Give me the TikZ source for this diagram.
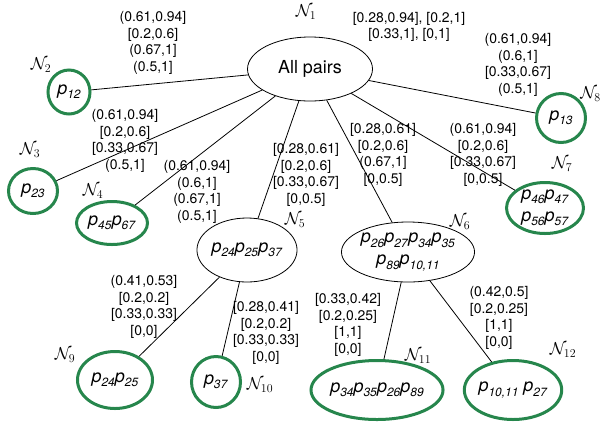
\documentclass[tikz,border=0pt]{standalone}
\usepackage[no-math]{fontspec}
\setmainfont{TeX Gyre Heros}
\usetikzlibrary{shapes.geometric}
\definecolor{leafgreen}{RGB}{38,134,76}
\newcommand\pp[1]{\textit{p}\raisebox{-0.45ex}{\fontsize{12}{12}\selectfont\textit{#1}}}
\begin{document}
\begin{tikzpicture}[x=1bp,y=-1bp,
  inner/.style={ellipse,draw=black,line width=0.8bp,inner sep=0pt,font=\fontsize{18}{22}\selectfont,align=center},
  leaf/.style={ellipse,draw=leafgreen,line width=3bp,inner sep=0pt,font=\fontsize{18}{22}\selectfont,align=center},
  lab/.style={font=\fontsize{14}{16.5}\selectfont,align=center,inner sep=0pt},
  nlab/.style={font=\fontsize{18}{18}\selectfont,inner sep=0pt},
  edge/.style={line width=0.8bp}]
\useasboundingbox (0,0) rectangle (602,429);
% nodes
\node[inner,minimum width=125bp,minimum height=64bp] (n1) at (310,69) {All pairs};
\node[leaf,minimum width=42bp,minimum height=44bp] (n2) at (69,92) {\pp{12}};
\node[leaf,minimum width=49bp,minimum height=45bp] (n3) at (33,191) {\pp{23}};
\node[leaf,minimum width=71bp,minimum height=43bp] (n4) at (112,223) {\pp{45}\pp{67}};
\node[inner,minimum width=100bp,minimum height=64bp] (n5) at (247,250) {\pp{24}\pp{25}\pp{37}};
\node[inner,minimum width=126bp,minimum height=60bp] (n6) at (408,252) {\pp{26}\pp{27}\pp{34}\pp{35}\\\pp{89}\pp{10,11}};
\node[leaf,minimum width=77bp,minimum height=51bp] (n7) at (545,208) {\pp{46}\pp{47}\\\pp{56}\pp{57}};
\node[leaf,minimum width=49bp,minimum height=49bp] (n8) at (561,118) {\pp{13}};
\node[leaf,minimum width=75bp,minimum height=57bp] (n9) at (115,380) {\pp{24}\pp{25}};
\node[leaf,minimum width=49bp,minimum height=51bp] (n10) at (216,382) {\pp{37}};
\node[leaf,minimum width=123bp,minimum height=59bp] (n11) at (377,390) {\pp{34}\pp{35}\pp{26}\pp{89}};
\node[leaf,minimum width=81bp,minimum height=59bp] (n12) at (513,390) {\pp{10,11} \pp{27}};
% connectors
\draw[edge] (n1) -- (n2);
\draw[edge] (n1) -- (n3);
\draw[edge] (n1) -- (n4);
\draw[edge] (n1) -- (n5);
\draw[edge] (n1) -- (n6);
\draw[edge] (n1) -- (n7);
\draw[edge] (n1) -- (n8);
\draw[edge] (n5) -- (n9);
\draw[edge] (n5) -- (n10);
\draw[edge] (n6) -- (n11);
\draw[edge] (n6) -- (n12);
% edge labels
\node[lab] (l12) at (153,43) {(0.61,0.94]\\{[0.2,0.6]}\\(0.67,1]\\(0.5,1]};
\node[lab] (l13) at (125,141) {(0.61,0.94]\\{[0.2,0.6]}\\{[0.33,0.67]}\\(0.5,1]};
\node[lab] (l14) at (197,192) {(0.61,0.94]\\(0.6,1]\\(0.67,1]\\(0.5,1]};
\node[lab] (l15) at (306,175) {[0.28,0.61]\\{[0.2,0.6]}\\{[0.33,0.67]}\\{[0,0.5]}};
\node[lab] (l16) at (383,155) {[0.28,0.61]\\{[0.2,0.6]}\\(0.67,1]\\{[0,0.5]}};
\node[lab] (l17) at (483,155) {(0.61,0.94]\\{[0.2,0.6]}\\{[0.33,0.67]}\\{[0,0.5]}};
\node[lab] (l18) at (518,65) {(0.61,0.94]\\(0.6,1]\\{[0.33,0.67]}\\(0.5,1]};
\node[lab] (l1) at (409,27) {[0.28,0.94], [0.2,1]\\{[0.33,1], [0,1]}};
\node[lab] (l59) at (144,307) {(0.41,0.53]\\{[0.2,0.2]}\\{[0.33,0.33]}\\{[0,0]}};
\node[lab] (l510) at (266,333) {[0.28,0.41]\\{[0.2,0.2]}\\{[0.33,0.33]}\\{[0,0]}};
\node[lab] (l611) at (348,325) {[0.33,0.42]\\{[0.2,0.25]}\\{[1,1]}\\{[0,0]}};
\node[lab] (l612) at (499,318) {(0.42,0.5]\\{[0.2,0.25]}\\{[1,1]}\\{[0,0]}};
% node names
\node[nlab] (t1) at (306,12) {$\mathcal{N}_1$};
\node[nlab] (t2) at (41,65) {$\mathcal{N}_2$};
\node[nlab] (t3) at (30,150) {$\mathcal{N}_3$};
\node[nlab] (t4) at (93,191) {$\mathcal{N}_4$};
\node[nlab] (t5) at (295,220) {$\mathcal{N}_5$};
\node[nlab] (t6) at (460,222) {$\mathcal{N}_6$};
\node[nlab] (t7) at (562,164) {$\mathcal{N}_7$};
\node[nlab,anchor=east] (t8) at (601,94) {$\mathcal{N}_8$};
\node[nlab] (t9) at (65,355) {$\mathcal{N}_9$};
\node[nlab] (t10) at (260,385) {$\mathcal{N}_{10}$};
\node[nlab] (t11) at (418,356) {$\mathcal{N}_{11}$};
\node[nlab] (t12) at (563,350) {$\mathcal{N}_{12}$};
\end{tikzpicture}
\end{document}
